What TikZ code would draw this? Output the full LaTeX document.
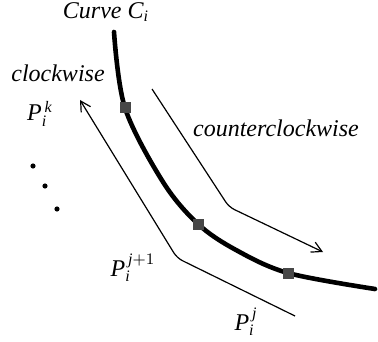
\documentclass[tikz,border=0pt]{standalone}
\usepackage{fontspec}
\setmainfont{Liberation Serif}
\usetikzlibrary{positioning,arrows.meta,backgrounds}
\tikzset{
  crv/.style={draw=black,line width=2.3pt,line cap=round},
  trk/.style={draw=black,line width=0.6pt,rounded corners=3pt},
  tip/.style={-{Straight Barb[length=5pt,width=5.5pt,line width=0.6pt]}},
  pt/.style={draw=none,fill=black!72,minimum size=5.5pt,inner sep=0pt},
  lbl/.style={font=\itshape\fontsize{12}{14}\selectfont,inner sep=0pt},
  dt/.style={circle,fill=black,minimum size=2.6pt,inner sep=0pt},
}

\begin{document}
\begin{tikzpicture}[x=0.5pt,y=-0.5pt]
\useasboundingbox (0,0) rectangle (378,341);
% points on the curve
\node[pt] (q1) at (125,108) {};
\node[pt] (q2) at (198,224) {};
\node[pt] (q3) at (288,273) {};
\coordinate (c0) at (114,32);
\coordinate (c1) at (163,182);
\coordinate (c2) at (236,250);
\coordinate (c3) at (375,289);
\begin{scope}[on background layer]
\draw[crv] plot[smooth,tension=0.55] coordinates
  {(c0) (q1.center) (c1) (q2.center) (c2) (q3.center) (c3)};
\end{scope}

% tracks
\coordinate (a0) at (295,316);
\coordinate (a1) at (177,258);
\coordinate (a2) at (80,100);
\draw[trk,tip] (a0) -- (a1) -- (a2);
\coordinate (b0) at (152,89);
\coordinate (b1) at (229,207);
\coordinate (b2) at (323,252);
\draw[trk,tip] (b0) -- (b1) -- (b2);

% labels
\node[lbl] (ci) at (106,12) {Curve $\mathit{C}_{\mathit{i}}$};
\node[lbl] (cw) at (58,73) {clockwise};
\node[lbl] (ccw) at (276,128) {counterclockwise};
\node[lbl] (pk) at (40,114) {$\mathit{P}_{\mathit{i}}^{\,\mathit{k}}$};
\node[lbl] (pj1) at (133,268) {$\mathit{P}_{\mathit{i}}^{\,\mathit{j}+1}$};
\node[lbl] (pj) at (246,322) {$\mathit{P}_{\mathit{i}}^{\,\mathit{j}}$};

% dots
\foreach \x/\y [count=\n] in {33/166,45/186,57/209}
  \node[dt] (d\n) at (\x,\y) {};
\end{tikzpicture}
\end{document}
